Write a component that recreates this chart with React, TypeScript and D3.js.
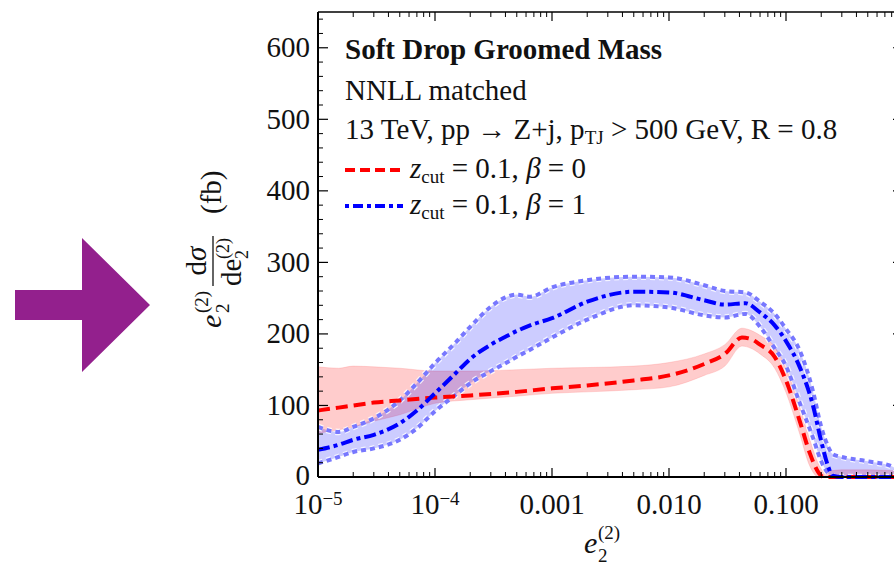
import React from 'react';
import * as d3 from 'd3';

// ---------- data ----------
const blueX = [1e-5, 1.5e-5, 2e-5, 3e-5, 5e-5, 7e-5, 1e-4, 1.5e-4, 2e-4, 3e-4, 4e-4, 5e-4, 6.5e-4, 1e-3, 2e-3, 5e-3, 0.01, 0.02, 0.03, 0.045, 0.06, 0.08, 0.1, 0.13, 0.17, 0.2, 0.23, 0.25, 0.3, 0.5, 0.8, 1];
const blueMid = [38, 45, 52, 59, 75, 93, 117, 145, 165, 185, 196, 204, 212, 222, 245, 259, 258, 247, 241, 243, 230, 212, 190, 155, 100, 50, 14, 2, 0, 0, 0, 0];
const blueUp = [70, 63, 70, 82, 107, 131, 159, 188, 210, 238, 251, 255, 252, 265, 275, 280, 279, 268, 260, 258, 245, 228, 207, 178, 120, 70, 42, 32, 28, 22, 15, 5];
const blueLo = [19, 28, 35, 40, 52, 68, 92, 115, 131, 148, 159, 168, 178, 195, 220, 240, 237, 226, 223, 228, 210, 180, 155, 105, 55, 22, 5, 0, 0, 0, 0, 0];

const redX = [1e-5, 1.5e-5, 2e-5, 3e-5, 5e-5, 1e-4, 2e-4, 5e-4, 1e-3, 2e-3, 5e-3, 0.01, 0.02, 0.03, 0.042, 0.05, 0.06, 0.08, 0.1, 0.13, 0.16, 0.19, 0.21, 0.25, 0.3, 0.5, 1];
const redMid = [93, 97, 100, 104, 107, 111, 114, 119, 124, 128, 135, 142, 158, 172, 195, 193, 185, 168, 135, 80, 33, 6, 0, 0, 0, 0, 0];
const redUp = [154, 152, 155, 154, 152, 148, 148, 150, 152, 153, 155, 160, 172, 185, 208, 205, 198, 182, 152, 100, 52, 18, 8, 9, 10, 10, 8];
const redLo = [61, 66, 70, 78, 87, 103, 108, 113, 117, 119, 122, 126, 142, 155, 183, 180, 172, 152, 118, 62, 15, 0, 0, 0, 0, 0, 0];

const xMajorTicks = [1e-5, 1e-4, 1e-3, 1e-2, 1e-1, 1];
const xTickLabels = [
  { base: '10', exp: '−5' },
  { base: '10', exp: '−4' },
  { base: '0.001', exp: '' },
  { base: '0.010', exp: '' },
  { base: '0.100', exp: '' },
];
const yMajorTicks = [0, 100, 200, 300, 400, 500, 600];
const yTickLabels = ['0', '100', '200', '300', '400', '500', '600'];

const titleLines = ['Soft Drop Groomed Mass', 'NNLL matched'];

const FONT = '"Liberation Serif", "Times New Roman", serif';
const FS = 29;

export default function App() {
  const X0 = 318, X1 = 903, Y0 = 477, Y1 = 12;
  const x = d3.scaleLog().domain([1e-5, 1]).range([X0, X1]);
  const y = d3.scaleLinear().domain([0, 650]).range([Y0, Y1]);

  const xMinor: number[] = [];
  for (let e = -5; e < 0; e++) for (let k = 2; k <= 9; k++) xMinor.push(k * Math.pow(10, e));
  const yMinor = d3.range(0, 651, 20).filter((v) => v % 100 !== 0);

  const mk = (xs: number[], ys: number[]) => xs.map((v, i) => [v, ys[i]] as [number, number]);
  const line = d3.line<[number, number]>().x((d) => x(d[0])).y((d) => y(d[1])).curve(d3.curveMonotoneX);
  const bandData = (xs: number[], lo: number[], up: number[]) => xs.map((v, i) => ({ x: v, lo: lo[i], up: up[i] }));
  const area = d3.area<{ x: number; lo: number; up: number }>()
    .x((d) => x(d.x)).y0((d) => y(d.lo)).y1((d) => y(d.up)).curve(d3.curveMonotoneX);

  const redBand = area(bandData(redX, redLo, redUp)) || '';
  const blueBand = area(bandData(blueX, blueLo, blueUp)) || '';
  const redLine = line(mk(redX, redMid)) || '';
  const blueLine = line(mk(blueX, blueMid)) || '';
  const blueUpLine = line(mk(blueX, blueUp)) || '';
  const blueLoLine = line(mk(blueX, blueLo)) || '';

  const blueDash = '12,4,4,4';
  const redDash = '12,6';
  const dotDash = '5,4';

  return (
    <div style={{ position: 'absolute', left: 0, top: 0 }}>
      <svg width={894} height={565} style={{ display: 'block', background: '#fff' }} fontFamily={FONT}>
        <defs>
          <clipPath id="plot">
            <rect x={X0} y={Y1} width={X1 - X0} height={Y0 - Y1 + 3} />
          </clipPath>
        </defs>

        {/* decorative arrow */}
        <path d="M15,290 L82,290 L82,238 L150,305 L82,372 L82,320 L15,320 Z" fill="#93208d" />

        <g clipPath="url(#plot)">
          <path d={redBand} fill="rgba(255,0,0,0.2)" stroke="rgba(255,120,120,0.25)" strokeWidth={1} />
          <path d={blueBand} fill="rgba(0,0,255,0.2)" stroke="none" />
          <path d={blueUpLine} fill="none" stroke="rgba(255,255,255,0.8)" strokeWidth={6.5} strokeDasharray={dotDash} />
          <path d={blueLoLine} fill="none" stroke="rgba(255,255,255,0.8)" strokeWidth={6.5} strokeDasharray={dotDash} />
          <path d={blueUpLine} fill="none" stroke="#7777ff" strokeWidth={4} strokeDasharray={dotDash} />
          <path d={blueLoLine} fill="none" stroke="#7777ff" strokeWidth={4} strokeDasharray={dotDash} />
          <path d={redLine} fill="none" stroke="#ff0000" strokeWidth={4} strokeDasharray={redDash} />
          <path d={blueLine} fill="none" stroke="#0000ff" strokeWidth={4} strokeDasharray={blueDash} />
        </g>

        {/* frame */}
        <g stroke="#000" fill="none">
          <line x1={X0} x2={X1} y1={Y0} y2={Y0} strokeWidth={2} />
          <line x1={X0} x2={X0} y1={Y0} y2={Y1} strokeWidth={2} />
          <line x1={X0} x2={X1} y1={Y1} y2={Y1} strokeWidth={1.5} />
          <line x1={X1} x2={X1} y1={Y0} y2={Y1} strokeWidth={1.5} />
          {xMajorTicks.map((t) => (
            <g key={'xm' + t}>
              <line x1={x(t)} x2={x(t)} y1={Y0} y2={Y0 - 9} strokeWidth={1.2} />
              <line x1={x(t)} x2={x(t)} y1={Y1} y2={Y1 + 9} strokeWidth={1.2} />
            </g>
          ))}
          {xMinor.map((t) => (
            <g key={'xn' + t}>
              <line x1={x(t)} x2={x(t)} y1={Y0} y2={Y0 - 5} strokeWidth={1} />
              <line x1={x(t)} x2={x(t)} y1={Y1} y2={Y1 + 5} strokeWidth={1} />
            </g>
          ))}
          {yMajorTicks.map((t) => (
            <g key={'ym' + t}>
              <line x1={X0} x2={X0 + 10} y1={y(t)} y2={y(t)} strokeWidth={1.2} />
              <line x1={X1} x2={X1 - 10} y1={y(t)} y2={y(t)} strokeWidth={1.2} />
            </g>
          ))}
          {yMinor.map((t) => (
            <g key={'yn' + t}>
              <line x1={X0} x2={X0 + 5} y1={y(t)} y2={y(t)} strokeWidth={1} />
              <line x1={X1} x2={X1 - 5} y1={y(t)} y2={y(t)} strokeWidth={1} />
            </g>
          ))}
        </g>

        {/* y tick labels */}
        {yMajorTicks.map((t, i) => (
          <text key={'yl' + t} x={310} y={y(t) - (t === 0 ? 2 : 0)} dy="0.33em" textAnchor="end" fontSize={FS} fill="#111">
            {yTickLabels[i]}
          </text>
        ))}

        {/* x tick labels */}
        {xTickLabels.map((l, i) => (
          <text key={'xl' + i} x={x(xMajorTicks[i])} y={514} textAnchor="middle" fontSize={FS} fill="#111">
            {l.base}
            {l.exp && (
              <tspan fontSize={19} dy={-9}>{l.exp}</tspan>
            )}
          </text>
        ))}

        {/* x axis label */}
        <g fill="#111">
          <text x={584} y={553} fontSize={30} fontStyle="italic">e</text>
          <text x={598} y={562} fontSize={19}>2</text>
          <text x={598} y={539} fontSize={19}>(2)</text>
        </g>

        {/* y axis label */}
        <g transform="translate(221,0) rotate(-90)" fill="#111">
          <text x={-328} y={0} fontSize={30} fontStyle="italic">e</text>
          <text x={-313} y={8} fontSize={19}>2</text>
          <text x={-313} y={-13} fontSize={19}>(2)</text>
          <text x={-261} y={-15} fontSize={FS} textAnchor="middle">d<tspan fontStyle="italic">σ</tspan></text>
          <line x1={-286} x2={-236} y1={-8} y2={-8} stroke="#111" strokeWidth={1.3} />
          <text x={-286} y={20} fontSize={FS}>de</text>
          <text x={-259} y={27} fontSize={18}>2</text>
          <text x={-259} y={8} fontSize={18}>(2)</text>
          <text x={-214} y={0} fontSize={FS}>(fb)</text>
        </g>

        {/* legend / annotation */}
        <g fill="#111" fontSize={FS}>
          <text x={345} y={59} fontWeight="bold">{titleLines[0]}</text>
          <text x={345} y={100}>{titleLines[1]}</text>
          <text x={345} y={139}>
            13 TeV, pp → Z+j, p<tspan fontSize={19} dy={5}>TJ</tspan><tspan dy={-5}> &gt; 500 GeV, R = 0.8</tspan>
          </text>
          <line x1={345} x2={403} y1={170} y2={170} stroke="#ff0000" strokeWidth={4} strokeDasharray="10,5" />
          <text x={410} y={178}>
            <tspan fontStyle="italic">z</tspan><tspan fontSize={19} dy={5}>cut</tspan><tspan dy={-5}> = 0.1, </tspan><tspan fontStyle="italic">β</tspan> = 0
          </text>
          <line x1={345} x2={403} y1={206} y2={206} stroke="#0000ff" strokeWidth={4} strokeDasharray="4,4,10,4" />
          <text x={410} y={214}>
            <tspan fontStyle="italic">z</tspan><tspan fontSize={19} dy={5}>cut</tspan><tspan dy={-5}> = 0.1, </tspan><tspan fontStyle="italic">β</tspan> = 1
          </text>
        </g>
      </svg>
    </div>
  );
}
